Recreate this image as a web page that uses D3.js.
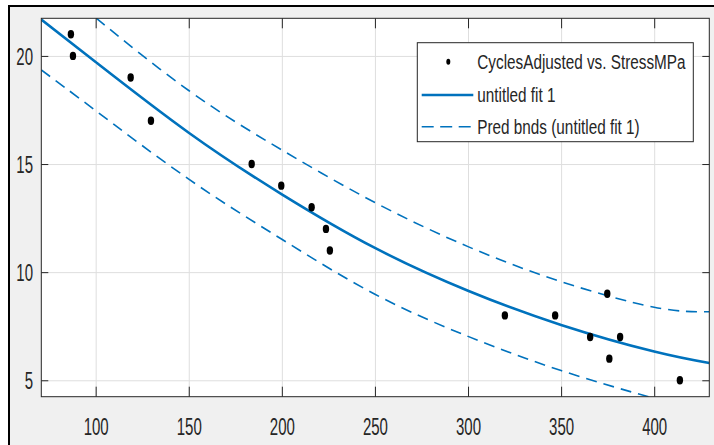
<!DOCTYPE html>
<html>
<head>
<meta charset="utf-8">
<script src="https://cdn.jsdelivr.net/npm/d3@7"></script>
<style>
body { margin: 0; background: #fff; }
svg text { font-family: "Liberation Sans", Arial, sans-serif; fill: #262626; }
</style>
</head>
<body>
<svg id="chart" width="714" height="445"></svg>
<script>
// measured points (StressMPa, CyclesAdjusted)
const stress = [86.7, 87.8, 118.8, 129.7, 183.8, 199.7, 216, 223.7, 225.8, 319.8, 346.8, 365.6, 374.8, 375.9, 381.7, 413.8];
const cycles = [21, 20, 19, 17, 15, 14, 13, 12, 11, 8, 8, 7, 9, 6, 7, 5];

// fit curve and prediction bounds
const curveX = [70.8, 100, 150, 200, 250, 300, 350, 400, 429.6];
const fitY   = [21.68, 19.72, 16.45, 13.6, 11.12, 9.14, 7.56, 6.33, 5.8];
const upperY = [23.9, 21.77, 18.4, 15.65, 13.22, 11.18, 9.56, 8.38, 8.17];
const lowerY = [19.35, 17.47, 14.3, 11.52, 8.98, 7.03, 5.45, 4.17, 3.55];

const xTicks = [100, 150, 200, 250, 300, 350, 400];
const yTicks = [5, 10, 15, 20];
const legendLabels = ['CyclesAdjusted vs. StressMPa', 'untitled fit 1', 'Pred bnds (untitled fit 1)'];

const blue = '#0072bd';
const svg = d3.select('#chart');

// figure background with the cut-off window border
svg.append('rect').attr('x', 9).attr('y', 6).attr('width', 705).attr('height', 439).attr('fill', '#f0f0f0');
svg.append('path').attr('d', 'M9,445V6H714').attr('fill', 'none').attr('stroke', '#000').attr('stroke-width', 2);

const margin = {left: 41.3, top: 18.3, right: 714 - 709.3, bottom: 445 - 396.7};
const width = 714 - margin.left - margin.right;
const height = 445 - margin.top - margin.bottom;

const x = d3.scaleLinear().domain([70.8, 429.6]).range([0, width]);
const y = d3.scaleLinear().domain([4.24, 21.74]).range([height, 0]);

const g = svg.append('g').attr('transform', 'translate(' + margin.left + ',' + margin.top + ')');
g.append('rect').attr('width', width).attr('height', height).attr('fill', '#fff');

svg.append('defs').append('clipPath').attr('id', 'clip')
	.append('rect').attr('width', width).attr('height', height);

// grid
g.append('g')
	.attr('transform', 'translate(0,' + height + ')')
	.call(d3.axisBottom(x).tickValues(xTicks).tickSize(-height).tickFormat(''))
	.call(a => a.select('.domain').remove())
	.selectAll('line').attr('stroke', '#dedede');
g.append('g')
	.call(d3.axisLeft(y).tickValues(yTicks).tickSize(-width).tickFormat(''))
	.call(a => a.select('.domain').remove())
	.selectAll('line').attr('stroke', '#dedede');

// curves
const pts = ys => curveX.map((v, i) => [v, ys[i]]);
const line = d3.line().x(d => x(d[0])).y(d => y(d[1])).curve(d3.curveNatural);
const plot = g.append('g').attr('clip-path', 'url(#clip)');

[upperY, lowerY].forEach(ys => {
	plot.append('path')
		.attr('d', line(pts(ys)))
		.attr('fill', 'none')
		.attr('stroke', blue)
		.attr('stroke-width', 1.6)
		.attr('stroke-dasharray', '11,7');
});
plot.append('path')
	.attr('d', line(pts(fitY)))
	.attr('fill', 'none')
	.attr('stroke', blue)
	.attr('stroke-width', 2.6);

plot.selectAll('ellipse')
	.data(stress)
	.enter().append('ellipse')
	.attr('cx', d => x(d))
	.attr('cy', (d, i) => y(cycles[i]))
	.attr('rx', 3.2)
	.attr('ry', 4.2)
	.attr('fill', '#000');

// axes with inward ticks
const axisCol = '#262626';
function style(a) {
	a.select('.domain').remove();
	a.selectAll('line').attr('stroke', axisCol);
}
g.append('g').attr('transform', 'translate(0,' + height + ')')
	.call(d3.axisBottom(x).tickValues(xTicks).tickSize(-10))
	.call(style)
	.call(a => a.selectAll('text')
		.attr('y', 0).attr('dy', '0.35em')
		.attr('transform', 'translate(0,30) scale(1,1.6)')
		.style('font-size', '15px').attr('fill', axisCol));
g.append('g')
	.call(d3.axisTop(x).tickValues(xTicks).tickSize(-10).tickFormat(''))
	.call(style);
g.append('g')
	.call(d3.axisLeft(y).tickValues(yTicks).tickSize(-7))
	.call(style)
	.call(a => a.selectAll('text')
		.attr('x', -8.3).attr('dy', '0.35em')
		.attr('transform', 'scale(1,1.6)')
		.style('font-size', '15px').attr('fill', axisCol));
g.append('g').attr('transform', 'translate(' + width + ',0)')
	.call(d3.axisRight(y).tickValues(yTicks).tickSize(-7).tickFormat(''))
	.call(style);

g.append('rect').attr('width', width).attr('height', height)
	.attr('fill', 'none').attr('stroke', axisCol).attr('stroke-width', 1);

// legend
const lg = svg.append('g').attr('transform', 'translate(417.3,42.7)');
lg.append('rect').attr('width', 276).attr('height', 99)
	.attr('fill', '#fff').attr('stroke', axisCol).attr('stroke-width', 1);
const rowY = [19, 52.3, 84];
lg.append('ellipse').attr('cx', 31).attr('cy', rowY[0]).attr('rx', 2).attr('ry', 3).attr('fill', '#000');
lg.append('line').attr('x1', 4.4).attr('x2', 56).attr('y1', rowY[1]).attr('y2', rowY[1])
	.attr('stroke', blue).attr('stroke-width', 2.6);
lg.append('line').attr('x1', 4.4).attr('x2', 56).attr('y1', rowY[2]).attr('y2', rowY[2])
	.attr('stroke', blue).attr('stroke-width', 1.6).attr('stroke-dasharray', '12,6.5');
lg.selectAll('text.lbl')
	.data(legendLabels)
	.enter().append('text')
	.attr('class', 'lbl')
	.attr('transform', (d, i) => 'translate(60,' + rowY[i] + ') scale(1,1.37)')
	.attr('dy', '0.35em')
	.style('font-size', '15.3px')
	.text(d => d);
</script>
</body>
</html>
